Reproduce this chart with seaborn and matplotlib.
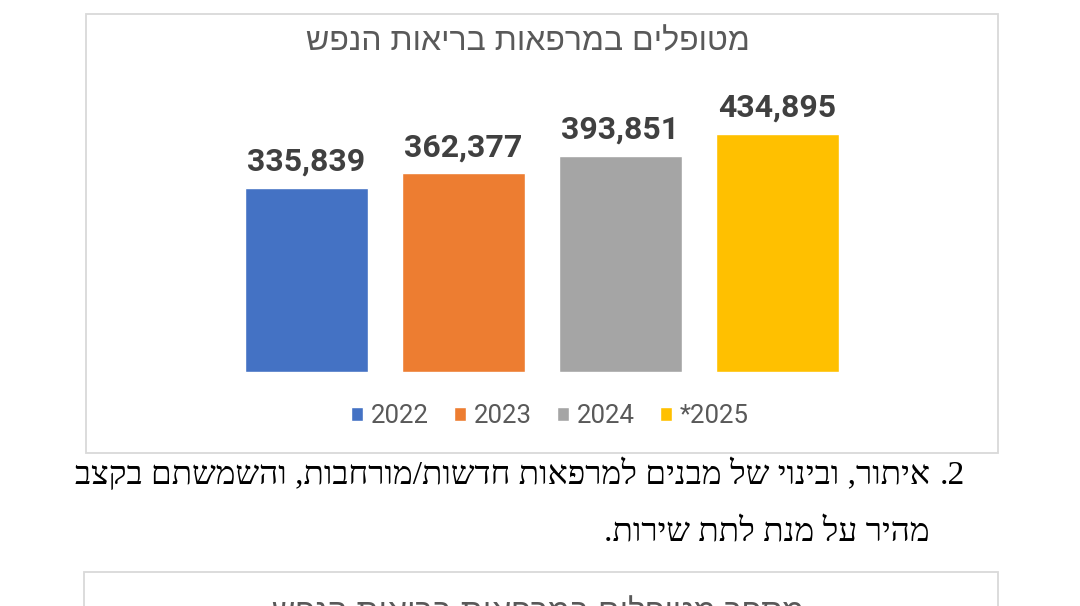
import matplotlib
matplotlib.use("Agg")
import matplotlib.pyplot as plt
import matplotlib.patches as mpatches
import seaborn as sns
import pandas as pd

# data
years = ["2022", "2023", "2024", "*2025"]
patients = [335839, 362377, 393851, 434895]
colors = ["#4472C4", "#ED7D31", "#A5A5A5", "#FFC000"]

title = "מטופלים במרפאות בריאות הנפש"
next_title = "מספר מטופלים במרפאות בריאות הנפש"
item_num = "2."
line1 = "איתור, ובינוי של מבנים למרפאות חדשות/מורחבות, והשמשתם בקצב"
line2 = "מהיר על מנת לתת שירות."


def visual(s):
    # matplotlib has no bidi support, so feed hebrew in visual order
    return s[::-1]


sns.set_theme(style="white")
plt.rcParams["font.family"] = ["Roboto", "DejaVu Sans"]
heb = ["Liberation Sans", "DejaVu Sans"]
heb_serif = ["Liberation Serif", "DejaVu Sans"]

W, H = 1080, 606
fig = plt.figure(figsize=(W / 100, H / 100), dpi=100)
fig.patch.set_facecolor("white")

# chart frame
fig.patches.append(mpatches.Rectangle((86 / W, 1 - 453 / H), 912 / W, 439 / H,
                                      transform=fig.transFigure, fill=False,
                                      edgecolor="#d9d9d9", lw=1.3))
# next chart frame (cut off at the bottom)
fig.patches.append(mpatches.Rectangle((84 / W, -0.2), 914 / W, 0.2 + 1 - 572 / H,
                                      transform=fig.transFigure, fill=False,
                                      edgecolor="#d9d9d9", lw=1.3))

ax = fig.add_axes([228 / W, 1 - 372 / H, 628 / W, 272 / H])
df = pd.DataFrame({"year": years, "patients": patients})
sns.barplot(data=df, x="year", y="patients", hue="year", palette=colors,
            dodge=False, width=0.78, legend=True, ax=ax, saturation=1)
ax.set_ylim(0, 496000)
ax.set_xlim(-0.5, 3.5)
for c in ax.containers:
    ax.bar_label(c, labels=[f"{int(v):,}" for v in c.datavalues], padding=8,
                 fontsize=23, fontweight="bold", color="#404040")
ax.set_xlabel("")
ax.set_ylabel("")
ax.set_xticks([])
ax.set_yticks([])
sns.despine(ax=ax, left=True, bottom=True)
ax.patch.set_alpha(0)

sns.move_legend(ax, "center", bbox_to_anchor=(550 / W, 1 - 416 / H),
                bbox_transform=fig.transFigure, ncol=4, frameon=False,
                title=None, fontsize=18.5, handlelength=0.45, handleheight=0.5,
                handletextpad=0.3, columnspacing=1.0)
for t in ax.get_legend().get_texts():
    t.set_color("#595959")

fig.text(528 / W, 1 - 42 / H, visual(title), ha="center", va="center",
         fontsize=23, color="#595959", family=heb)

# document text around the chart
fig.text(965 / W, 1 - 484 / H, visual(item_num), ha="right", va="baseline",
         fontsize=24, color="black", family=heb_serif)
fig.text(930 / W, 1 - 484 / H, visual(line1), ha="right", va="baseline",
         fontsize=24, color="black", family=heb_serif)
fig.text(930 / W, 1 - 541 / H, visual(line2), ha="right", va="baseline",
         fontsize=24, color="black", family=heb_serif)
fig.text(538 / W, 1 - 598 / H, visual(next_title), ha="center", va="top",
         fontsize=23, color="#595959", family=heb)

fig.savefig("out.png", dpi=100)
